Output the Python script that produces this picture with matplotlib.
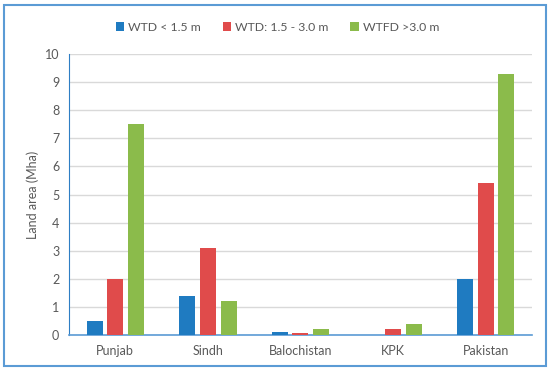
import matplotlib.pyplot as plt
import numpy as np
from matplotlib.patches import Rectangle

regions = ["Punjab", "Sindh", "Balochistan", "KPK", "Pakistan"]
wtd_low = [0.5, 1.4, 0.1, 0.0, 2.0]
wtd_mid = [2.0, 3.1, 0.08, 0.2, 5.4]
wtd_high = [7.5, 1.2, 0.2, 0.4, 9.3]
series_labels = ["WTD < 1.5 m", "WTD: 1.5 - 3.0 m", "WTFD >3.0 m"]
colors = ["#1F7BC1", "#E04B4B", "#8BBB4B"]

plt.rcParams["font.family"] = ["Lato", "DejaVu Sans"]

fig = plt.figure(figsize=(5.5, 3.73), dpi=100)
ax = fig.add_axes([0.1255, 0.1019, 0.8415, 0.7531])

x = np.arange(len(regions))
width = 0.173
step = 0.223
for i, (vals, lab, c) in enumerate(zip([wtd_low, wtd_mid, wtd_high], series_labels, colors)):
    ax.bar(x + (i - 1) * step, vals, width, color=c, label=lab, zorder=3)

ax.set_xlim(-0.5, len(regions) - 0.5)
ax.set_ylim(0, 10)
ax.set_yticks(range(0, 11))
ax.set_xticks(x)
ax.set_xticklabels(regions)
ax.tick_params(axis="both", length=0, colors="#595959", labelsize=9)
ax.tick_params(axis="y", pad=7)
ax.tick_params(axis="x", pad=7)
ax.set_ylabel("Land area (Mha)", color="#595959", fontsize=9, labelpad=4)
ax.grid(axis="y", color="#D9D9D9", linewidth=1, zorder=0)
for side in ["top", "right"]:
    ax.spines[side].set_visible(False)
ax.spines["left"].set_color("#2E7EC4")
ax.spines["bottom"].set_color("#5B9BD5")
ax.spines["bottom"].set_linewidth(1.2)

leg = ax.legend(loc="upper center", bbox_to_anchor=(0.45, 1.155), ncol=3, frameon=False,
                fontsize=8.8, handlelength=0.7, handleheight=0.7, handletextpad=0.3,
                columnspacing=1.8)
for t in leg.get_texts():
    t.set_color("#595959")

fig.patches.append(Rectangle((0.008, 0.018), 0.984, 0.968, transform=fig.transFigure,
                             fill=False, edgecolor="#5B9BD5", linewidth=1.5))

fig.savefig("out.png", dpi=100)
